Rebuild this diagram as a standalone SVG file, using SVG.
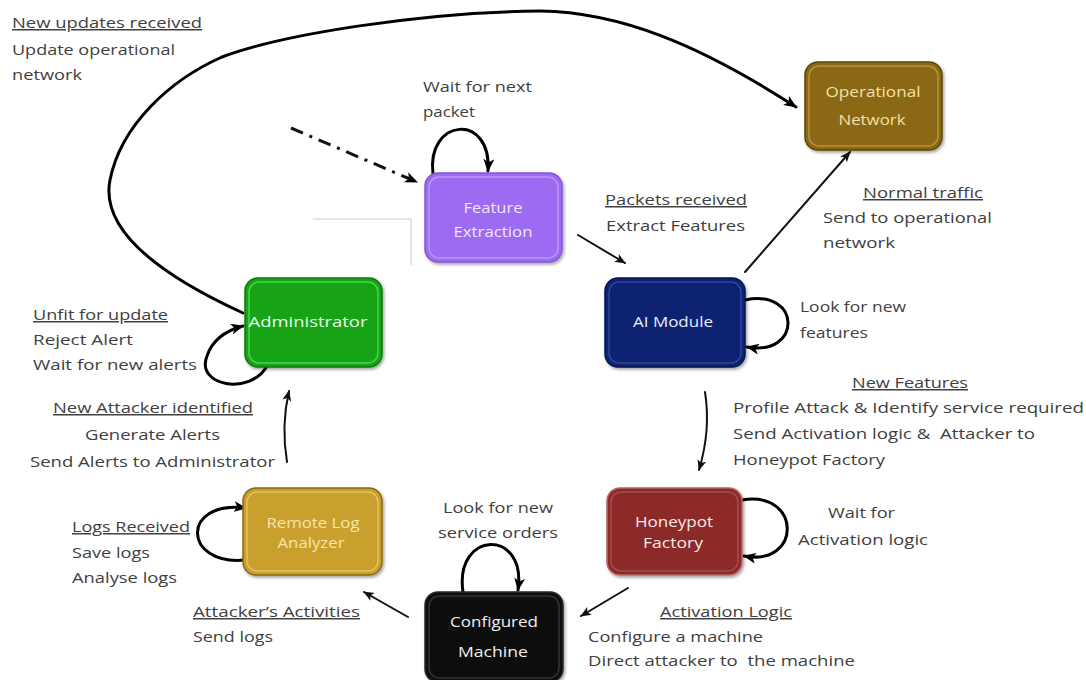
<svg xmlns="http://www.w3.org/2000/svg" width="1086" height="680" viewBox="0 0 1086 680">
<defs>
<marker id="ah" viewBox="0 0 12 10" refX="11" refY="5" markerWidth="13" markerHeight="11" markerUnits="userSpaceOnUse" orient="auto">
<path d="M0,0 L12,5 L0,10 L3,5 z" fill="#000"/>
</marker>
<marker id="ahs" viewBox="0 0 12 10" refX="11" refY="5" markerWidth="11" markerHeight="9" markerUnits="userSpaceOnUse" orient="auto">
<path d="M0,0 L12,5 L0,10 L3,5 z" fill="#111"/>
</marker>
<filter id="sh" x="-10%" y="-10%" width="125%" height="130%">
<feDropShadow dx="1.5" dy="2" stdDeviation="1.5" flood-color="#000" flood-opacity="0.35"/>
</filter>
</defs>
<style>
text{font-family:"Open Sans","Liberation Sans",Arial,sans-serif;font-size:15px;fill:#404040;white-space:pre}
.u{text-decoration:underline}
.nt{font-size:14.5px;text-anchor:middle}
.c{fill:none;stroke:#000;stroke-width:3;stroke-linecap:round;marker-end:url(#ah)}
.s{fill:none;stroke:#111;stroke-width:2;stroke-linecap:round;marker-end:url(#ahs)}
.d{fill:none;stroke:#111;stroke-width:3;stroke-dasharray:13,7,3,7;marker-end:url(#ah)}
.g{fill:none;stroke:#c8c8c8;stroke-width:1}
.box{filter:url(#sh)}
.in{fill:none;stroke-width:1.5;opacity:0.7}
</style>
<rect width="1086" height="680" fill="#fff"/>

<g id="guides">
<path class="g" d="M313,219 L411,219 L411,265"/>
</g>

<g id="connectors">
<path class="c" d="M243,313 C160,275 100,230 110,180 C121,125 170,80 222,57 C280,35 420,12 540,11 C620,12 700,45 796,107"/>
<path class="d" d="M291,128 L417,182"/>
<path class="c" d="M433,174 C426,118 492,112 488,171"/>
<path class="s" d="M578,235 L625,263"/>
<path class="s" d="M745,272 L850,152"/>
<path class="c" d="M745,300 C802,288 802,357 747,347"/>
<path class="s" d="M705,392 Q711,430 699,470"/>
<path class="c" d="M742,500 C802,490 802,567 744,556"/>
<path class="s" d="M628,588 L581,616"/>
<path class="c" d="M463,592 C454,530 527,528 518,590"/>
<path class="s" d="M408,617 L364,592"/>
<path class="c" d="M245,560 C183,566 180,500 246,508"/>
<path class="s" d="M287,462 Q281,425 289,391"/>
<path class="c" d="M267,366 C250,396 195,386 207,356 C213,338 228,330 243,326"/>
</g>

<g id="feature-extraction">
<rect class="box" x="425" y="173" width="137" height="89" rx="13" fill="#9d6af2" stroke="#8555dc" stroke-width="1.5"/>
<rect class="in" x="429" y="177" width="129" height="81" rx="10" stroke="#c6a6ff"/>
<text class="nt" x="493" y="213" textLength="59" lengthAdjust="spacingAndGlyphs" style="fill:#efe6ff">Feature</text>
<text class="nt" x="493" y="237" textLength="79" lengthAdjust="spacingAndGlyphs" style="fill:#efe6ff">Extraction</text>
</g>

<g id="operational-network">
<rect class="box" x="805" y="62" width="137" height="88" rx="13" fill="#8b6714" stroke="#5e4508" stroke-width="1.5"/>
<rect class="in" x="809" y="66" width="129" height="80" rx="10" stroke="#c9a544"/>
<text class="nt" x="873" y="97" textLength="95" lengthAdjust="spacingAndGlyphs" style="fill:#f2e2a6">Operational</text>
<text class="nt" x="872" y="125" textLength="67" lengthAdjust="spacingAndGlyphs" style="fill:#f2e2a6">Network</text>
</g>

<g id="ai-module">
<rect class="box" x="605" y="278" width="140" height="89" rx="13" fill="#0c2470" stroke="#061650" stroke-width="1.5"/>
<rect class="in" x="609" y="282" width="132" height="81" rx="10" stroke="#3a58a8"/>
<text class="nt" x="673" y="327" textLength="80" lengthAdjust="spacingAndGlyphs" style="fill:#e8ecff">AI Module</text>
</g>

<g id="honeypot-factory">
<rect class="box" x="607" y="488" width="135" height="87" rx="13" fill="#8c2c2c" stroke="#b86868" stroke-width="1.5"/>
<rect class="in" x="611" y="492" width="127" height="79" rx="10" stroke="#b45a5a"/>
<text class="nt" x="674" y="527" textLength="78" lengthAdjust="spacingAndGlyphs" style="fill:#fbe8e8">Honeypot</text>
<text class="nt" x="673" y="548" textLength="60" lengthAdjust="spacingAndGlyphs" style="fill:#fbe8e8">Factory</text>
</g>

<g id="configured-machine">
<rect class="box" x="425" y="592" width="138" height="90" rx="13" fill="#0a0a0a" stroke="#2a2a2a" stroke-width="1.5"/>
<rect class="in" x="429" y="596" width="130" height="82" rx="10" stroke="#444"/>
<text class="nt" x="494" y="627" textLength="88" lengthAdjust="spacingAndGlyphs" style="fill:#f0f0f0">Configured</text>
<text class="nt" x="493" y="657" textLength="70" lengthAdjust="spacingAndGlyphs" style="fill:#f0f0f0">Machine</text>
</g>

<g id="remote-log-analyzer">
<rect class="box" x="243" y="488" width="139" height="87" rx="13" fill="#c9a02e" stroke="#8a6a12" stroke-width="1.5"/>
<rect class="in" x="247" y="492" width="131" height="79" rx="10" stroke="#f0d070"/>
<text class="nt" x="313" y="528" textLength="93" lengthAdjust="spacingAndGlyphs" style="fill:#f6e6ac">Remote Log</text>
<text class="nt" x="311" y="548" textLength="67" lengthAdjust="spacingAndGlyphs" style="fill:#f6e6ac">Analyzer</text>
</g>

<g id="administrator">
<rect class="box" x="245" y="278" width="137" height="89" rx="13" fill="#18a418" stroke="#0a780a" stroke-width="1.5"/>
<rect class="in" x="249" y="282" width="129" height="81" rx="10" stroke="#5ee85e"/>
<text class="nt" x="308" y="327" textLength="119" lengthAdjust="spacingAndGlyphs" style="fill:#eaffea">Administrator</text>
</g>

<g id="labels">
<text class="u" x="12" y="28" textLength="190" lengthAdjust="spacingAndGlyphs">New updates received</text>
<text x="12" y="55" textLength="163" lengthAdjust="spacingAndGlyphs">Update operational</text>
<text x="12" y="80" textLength="70" lengthAdjust="spacingAndGlyphs">network</text>

<text x="423" y="92" textLength="109" lengthAdjust="spacingAndGlyphs">Wait for next</text>
<text x="423" y="117" textLength="52" lengthAdjust="spacingAndGlyphs">packet</text>

<text class="u" x="605" y="205" textLength="142" lengthAdjust="spacingAndGlyphs">Packets received</text>
<text x="606" y="231" textLength="139" lengthAdjust="spacingAndGlyphs">Extract Features</text>

<text class="u" x="863" y="198" textLength="120" lengthAdjust="spacingAndGlyphs">Normal traffic</text>
<text x="823" y="223" textLength="169" lengthAdjust="spacingAndGlyphs">Send to operational</text>
<text x="823" y="248" textLength="72" lengthAdjust="spacingAndGlyphs">network</text>

<text x="800" y="312" textLength="106" lengthAdjust="spacingAndGlyphs">Look for new</text>
<text x="800" y="338" textLength="68" lengthAdjust="spacingAndGlyphs">features</text>

<text class="u" x="852" y="388" textLength="116" lengthAdjust="spacingAndGlyphs">New Features</text>
<text x="733" y="413" textLength="351" lengthAdjust="spacingAndGlyphs">Profile Attack &amp; Identify service required</text>
<text x="733" y="439" textLength="302" lengthAdjust="spacingAndGlyphs">Send Activation logic &amp;  Attacker to</text>
<text x="733" y="465" textLength="152" lengthAdjust="spacingAndGlyphs">Honeypot Factory</text>

<text x="828" y="518" textLength="67" lengthAdjust="spacingAndGlyphs">Wait for</text>
<text x="798" y="545" textLength="130" lengthAdjust="spacingAndGlyphs">Activation logic</text>

<text class="u" x="660" y="617" textLength="132" lengthAdjust="spacingAndGlyphs">Activation Logic</text>
<text x="588" y="642" textLength="175" lengthAdjust="spacingAndGlyphs">Configure a machine</text>
<text x="588" y="666" textLength="267" lengthAdjust="spacingAndGlyphs">Direct attacker to  the machine</text>

<text x="443" y="513" textLength="110" lengthAdjust="spacingAndGlyphs">Look for new</text>
<text x="438" y="538" textLength="120" lengthAdjust="spacingAndGlyphs">service orders</text>

<text class="u" x="193" y="617" textLength="167" lengthAdjust="spacingAndGlyphs">Attacker’s Activities</text>
<text x="193" y="642" textLength="80" lengthAdjust="spacingAndGlyphs">Send logs</text>

<text class="u" x="72" y="532" textLength="118" lengthAdjust="spacingAndGlyphs">Logs Received</text>
<text x="72" y="558" textLength="78" lengthAdjust="spacingAndGlyphs">Save logs</text>
<text x="72" y="583" textLength="105" lengthAdjust="spacingAndGlyphs">Analyse logs</text>

<text class="u" x="33" y="320" textLength="135" lengthAdjust="spacingAndGlyphs">Unfit for update</text>
<text x="33" y="345" textLength="100" lengthAdjust="spacingAndGlyphs">Reject Alert</text>
<text x="33" y="370" textLength="164" lengthAdjust="spacingAndGlyphs">Wait for new alerts</text>

<text class="u" x="53" y="413" textLength="200" lengthAdjust="spacingAndGlyphs">New Attacker identified</text>
<text x="85" y="440" textLength="135" lengthAdjust="spacingAndGlyphs">Generate Alerts</text>
<text x="30" y="467" textLength="245" lengthAdjust="spacingAndGlyphs">Send Alerts to Administrator</text>
</g>
</svg>
